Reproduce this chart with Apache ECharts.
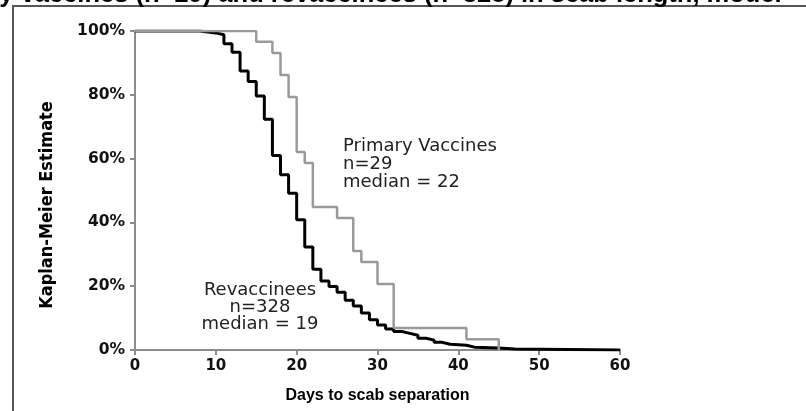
<!DOCTYPE html>
<html><head><meta charset="utf-8">
<script src="https://cdn.jsdelivr.net/npm/echarts@6/dist/echarts.min.js"></script>
<style>html,body{margin:0;padding:0;background:#fff}#c{width:806px;height:411px}</style>
</head><body><div id="c"></div>
<script>
// Revaccinees (n=328): day of step, Kaplan-Meier estimate (%) after the step
const revDays = [0, 8, 9, 10, 11, 12, 13, 14, 15, 16, 17, 18, 19, 20, 21, 22, 23, 24, 25, 26, 27, 28, 29, 30, 31, 32, 33, 34, 35, 36, 37, 38, 39, 41, 42, 45, 47, 60];
const revSurv = [100, 99.7, 99.4, 98.8, 96.0, 93.3, 87.5, 84.2, 79.6, 72.3, 61.0, 54.9, 49.1, 40.8, 32.3, 25.3, 21.6, 19.9, 18.1, 15.6, 13.8, 11.6, 9.5, 7.8, 6.6, 5.8, 5.2, 4.6, 3.7, 3.1, 2.4, 1.8, 1.5, 0.9, 0.6, 0.3, 0, 0];
// Primary vaccines (n=29)
const priDays = [0, 15, 17, 18, 19, 20, 21, 22, 25, 27, 28, 30, 32, 41, 45];
const priSurv = [100, 96.6, 93.1, 86.2, 79.3, 62.1, 58.6, 44.8, 41.4, 31.0, 27.6, 20.7, 6.9, 3.4, 0];
// Axis ticks
const xTicks = [0, 10, 20, 30, 40, 50, 60];
const yTicks = [0, 20, 40, 60, 80, 100];
const titleText = 'primary vaccines (n=29) and revaccinees (n=328) in scab length, model';
const yName = 'Kaplan-Meier Estimate';
const priLabel = ['Primary Vaccines', 'n=29', 'median = 22'];
const revLabel = ['Revaccinees', 'n=328', 'median = 19'];

const axisGray = '#8c8c8c';
const boldFont = "'Liberation Sans', Arial, sans-serif";
const tickFont = "'DejaVu Sans', sans-serif";
const chart = echarts.init(document.getElementById('c'), null, {renderer: 'canvas'});
const option = {
  animation: false,
  backgroundColor: '#fff',
  grid: {left: 135, right: 186, top: 31, bottom: 61},
  xAxis: {
    type: 'value', min: xTicks[0], max: xTicks[xTicks.length - 1], interval: xTicks[1] - xTicks[0],
    name: 'Days to scab separation', nameLocation: 'middle', nameGap: 38,
    nameTextStyle: {fontFamily: boldFont, fontWeight: 'bold', fontSize: 16, color: '#000'},
    axisLine: {lineStyle: {color: axisGray, width: 2}},
    axisTick: {show: true, length: 5, lineStyle: {color: axisGray, width: 2}},
    axisLabel: {fontFamily: tickFont, fontWeight: 'bold', fontSize: 15, color: '#111', margin: 9},
    splitLine: {show: false}
  },
  yAxis: {
    type: 'value', min: yTicks[0], max: yTicks[yTicks.length - 1], interval: yTicks[1] - yTicks[0],
    axisLine: {show: true, lineStyle: {color: axisGray, width: 2}},
    axisTick: {show: true, length: 5, lineStyle: {color: axisGray, width: 2}},
    axisLabel: {fontFamily: tickFont, fontWeight: 'bold', fontSize: 15.5, color: '#111', margin: 10, formatter: v => v + '%'},
    splitLine: {show: false}
  },
  series: [
    {type: 'line', name: 'Revaccinees', step: 'end', showSymbol: false, symbol: 'none',
     data: revDays.map((d, i) => [d, revSurv[i]]),
     lineStyle: {color: '#000', width: 3}},
    {type: 'line', name: 'Primary Vaccines', step: 'end', showSymbol: false, symbol: 'none',
     data: priDays.map((d, i) => [d, priSurv[i]]),
     lineStyle: {color: '#9a9a9a', width: 2.5}}
  ],
  graphic: [
    {type: 'rect', shape: {x: 13, y: 6, width: 900, height: 500}, style: {fill: 'none', stroke: '#555', lineWidth: 2}, silent: true},
    {type: 'text', x: -80, y: 8, style: {text: titleText, font: "bold 25.5px 'Liberation Sans', Arial, sans-serif", fill: '#000', verticalAlign: 'bottom', align: 'left'}},
    {type: 'text', x: 47, y: 205, rotation: Math.PI / 2, style: {text: yName, font: "bold 18px 'DejaVu Sans Condensed', 'Liberation Sans Narrow', sans-serif", fill: '#000', align: 'center', verticalAlign: 'middle'}},
    {type: 'text', x: 343, y: 137, style: {text: priLabel.join('\n'), font: "18px 'DejaVu Sans', sans-serif", lineHeight: 18, fill: '#222', align: 'left', verticalAlign: 'top'}},
    {type: 'text', x: 260, y: 282, style: {text: revLabel.join('\n'), font: "18px 'DejaVu Sans', sans-serif", lineHeight: 17, fill: '#222', align: 'center', verticalAlign: 'top'}}
  ]
};
chart.setOption(option);
</script>
</body></html>
